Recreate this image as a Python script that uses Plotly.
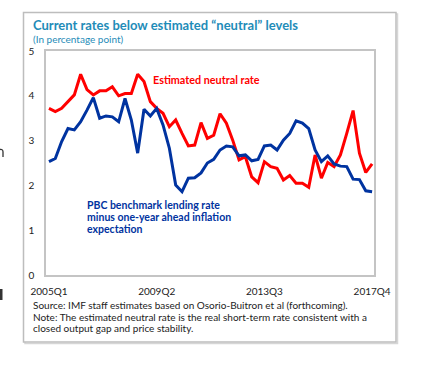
import plotly.graph_objects as go

quarters = [f"{y}Q{q}" for y in range(2005, 2018) for q in range(1, 5)]
neutral_rate = [3.72, 3.65, 3.72, 3.87, 4.02, 4.48, 4.14, 4.02, 4.11, 4.11,
                4.20, 4.00, 4.05, 4.05, 4.48, 4.32, 3.87, 3.72, 3.61, 3.31,
                3.46, 3.16, 2.88, 2.90, 3.40, 3.05, 3.12, 3.60, 3.39, 3.01,
                2.57, 2.64, 2.19, 2.06, 2.53, 2.42, 2.38, 2.12, 2.22, 2.05,
                2.05, 1.96, 2.68, 2.16, 2.51, 2.42, 2.68, 3.16, 3.67, 2.72,
                2.29, 2.48]
pbc_real_rate = [2.53, 2.60, 2.98, 3.27, 3.24, 3.42, 3.68, 3.96, 3.50, 3.55,
                 3.53, 3.42, 3.94, 3.46, 2.72, 3.70, 3.55, 3.72, 3.35, 2.83,
                 2.01, 1.86, 2.16, 2.17, 2.28, 2.50, 2.58, 2.79, 2.88, 2.86,
                 2.66, 2.68, 2.55, 2.58, 2.88, 2.90, 2.79, 3.01, 3.16, 3.44,
                 3.39, 3.27, 2.79, 2.53, 2.66, 2.48, 2.43, 2.42, 2.14, 2.13,
                 1.88, 1.86]
tick_labels = ["2005Q1", "2009Q2", "2013Q3", "2017Q4"]
y_ticks = [0, 1, 2, 3, 4, 5]

x_idx = list(range(len(quarters)))
tick_pos = [quarters.index(t) for t in tick_labels]

W, H = 438, 367
L, R, T, B = 46, 374, 51, 275  # plot area in px

def px_x(p):
    return (p - L) / (R - L)

def px_y(p):
    return (B - p) / (B - T)

FONT = "Lato"
TEAL = "#1f8cb8"
RED = "#ff0000"
BLUE = "#0033a0"
TXT = "#222222"

fig = go.Figure()
fig.add_trace(go.Scatter(x=x_idx, y=neutral_rate, mode="lines",
                         line=dict(color=RED, width=3), hoverinfo="skip"))
fig.add_trace(go.Scatter(x=x_idx, y=pbc_real_rate, mode="lines",
                         line=dict(color=BLUE, width=3), hoverinfo="skip"))

fig.update_layout(
    width=W, height=H,
    margin=dict(l=L, r=W - R, t=T, b=H - B, pad=0),
    paper_bgcolor="white", plot_bgcolor="white",
    showlegend=False,
    font=dict(family=FONT, size=10, color=TXT),
)
fig.update_xaxes(range=[-0.47, 51.3], tickvals=tick_pos, ticktext=tick_labels,
                 showgrid=False, zeroline=False, showline=True, mirror=True,
                 linecolor="#c4c4c4", linewidth=1.5, ticks="",
                 ticklabelstandoff=6, tickfont=dict(size=10, color=TXT))
fig.update_yaxes(range=[0, 5], tickvals=y_ticks, showgrid=False, zeroline=False,
                 showline=True, mirror=True, linecolor="#c4c4c4", linewidth=1.5,
                 ticks="", ticklabelstandoff=8, tickfont=dict(size=10, color=TXT))

# outer box with a light shadow
fig.add_shape(type="rect", xref="paper", yref="paper",
              x0=px_x(25), x1=px_x(397.5), y0=px_y(343.5), y1=px_y(14),
              line=dict(color="#d6d6d6", width=1.5), fillcolor="rgba(0,0,0,0)",
              layer="below")
fig.add_shape(type="rect", xref="paper", yref="paper",
              x0=px_x(23.5), x1=px_x(396), y0=px_y(342), y1=px_y(12.5),
              line=dict(color="#bdbdbd", width=1.5), fillcolor="white",
              layer="below")
# left-edge fragments of neighbouring content
fig.add_shape(type="rect", xref="paper", yref="paper",
              x0=px_x(0), x1=px_x(2.5), y0=px_y(300), y1=px_y(289),
              line=dict(width=0), fillcolor="#333333")
fig.add_shape(type="path", xref="paper", yref="paper",
              path=f"M {px_x(0)},{px_y(149.5)} Q {px_x(3)},{px_y(149)} {px_x(3)},{px_y(152)} L {px_x(3)},{px_y(157)}",
              line=dict(color="#333333", width=1.3))

ann = [
    dict(text="<b>Current rates below estimated “neutral” levels</b>",
         x=px_x(32), y=px_y(25), font=dict(size=13, color=TEAL)),
    dict(text="(In percentage point)", x=px_x(32), y=px_y(39),
         font=dict(size=10, color=TEAL)),
    dict(text="Source: IMF staff estimates based on Osorio-Buitron et al (forthcoming).",
         x=px_x(32), y=px_y(305), font=dict(size=10, color=TXT)),
    dict(text="Note: The estimated neutral rate is the real short-term rate consistent with a",
         x=px_x(32), y=px_y(316.7), font=dict(size=10, color=TXT)),
    dict(text="closed output gap and price stability.",
         x=px_x(32), y=px_y(328.3), font=dict(size=10, color=TXT)),
    dict(text="<b>Estimated neutral rate</b>", x=px_x(152), y=px_y(79),
         font=dict(size=10.8, color=RED)),
    dict(text="<b>PBC benchmark lending rate</b>", x=px_x(86), y=px_y(204.5),
         font=dict(size=10.5, color=BLUE)),
    dict(text="<b>minus one-year ahead inflation</b>", x=px_x(86), y=px_y(216.5),
         font=dict(size=10.5, color=BLUE)),
    dict(text="<b>expectation</b>", x=px_x(86), y=px_y(228.5),
         font=dict(size=10.5, color=BLUE)),
]
for a in ann:
    a.setdefault("xanchor", "left")
    fig.add_annotation(xref="paper", yref="paper", showarrow=False, align="left",
                       yanchor="middle", borderpad=0, **a)

fig.write_html("out.html", config={"displayModeBar": False},
               post_script="document.body.style.margin='0';")
